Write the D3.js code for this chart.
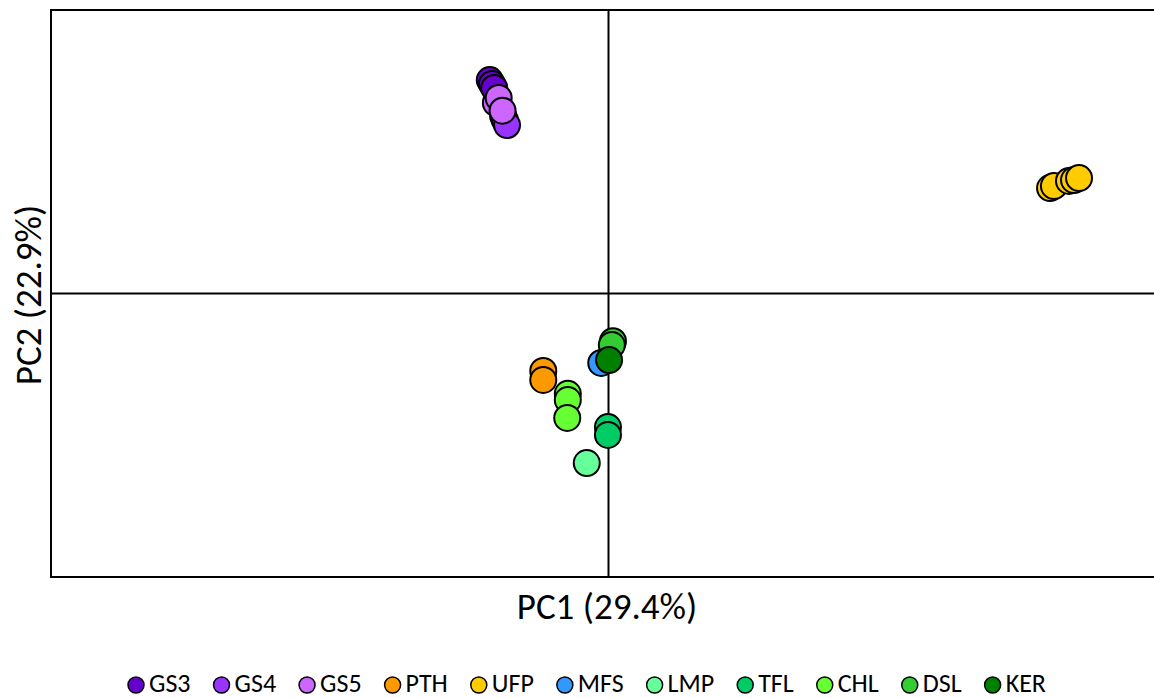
<!DOCTYPE html>
<html><head><meta charset="utf-8">
<script src="https://cdn.jsdelivr.net/npm/d3@7"></script>
<style>body{margin:0;background:#fff}svg{display:block}text{font-family:Carlito,Lato,"Open Sans",sans-serif;fill:#000}</style>
</head><body><svg id="c" width="1154" height="698"></svg>
<script>
const groups = ["GS3","GS4","GS5","PTH","UFP","MFS","LMP","TFL","CHL","DSL","KER"];
const colors = ["#6600CC","#9933FF","#CC66FF","#FF9900","#FFCC00","#3399FF","#66FF99","#00CC66","#66FF33","#33CC33","#008000"];
const pc1 = {
  GS3:[-2.13,-2.09,-2.05], GS4:[-1.89,-1.86,-1.82], GS5:[-2.02,-1.97,-1.90],
  PTH:[-1.17,-1.17], UFP:[7.92,7.99,8.26,8.35,8.44], MFS:[-0.13],
  LMP:[-0.39], TFL:[-0.01,-0.01], CHL:[-0.73,-0.73,-0.74], DSL:[0.08,0.06], KER:[0.01]
};
const pc2 = {
  GS3:[7.53,7.39,7.25], GS4:[6.26,6.12,5.94], GS5:[6.72,6.90,6.45],
  PTH:[-2.73,-3.05], UFP:[3.72,3.79,3.97,4.00,4.07], MFS:[-2.45],
  LMP:[-5.98], TFL:[-4.71,-4.99], CHL:[-3.54,-3.76,-4.39], DSL:[-1.68,-1.82], KER:[-2.35]
};
const xTitle = "PC1 (29.4%)", yTitle = "PC2 (22.9%)";

const svg = d3.select("#c");
const x = d3.scaleLinear().domain([-10,10]).range([51,1166]);
const y = d3.scaleLinear().domain([-10,10]).range([577,10]);
const col = d3.scaleOrdinal().domain(groups).range(colors);

svg.append("rect").attr("x",51).attr("y",10).attr("width",1166-51).attr("height",567)
  .attr("fill","none").attr("stroke","#000").attr("stroke-width",2);
svg.append("line").attr("x1",51).attr("x2",1166).attr("y1",y(0)).attr("y2",y(0)).attr("stroke","#000").attr("stroke-width",2);
svg.append("line").attr("x1",x(0)).attr("x2",x(0)).attr("y1",10).attr("y2",577).attr("stroke","#000").attr("stroke-width",2);

const pts = [];
groups.forEach(g => pc1[g].forEach((v,i) => pts.push({g, x:v, y:pc2[g][i]})));
svg.append("g").selectAll("circle").data(pts).join("circle")
  .attr("cx",d=>x(d.x)).attr("cy",d=>y(d.y)).attr("r",13)
  .attr("fill",d=>col(d.g)).attr("stroke","#000").attr("stroke-width",2);

svg.append("text").attr("x",607).attr("y",619).attr("text-anchor","middle")
  .attr("font-size",37).text(xTitle);
svg.append("text").attr("transform","translate(41,295) rotate(-90)").attr("text-anchor","middle")
  .attr("font-size",37).text(yTitle);

const lg = svg.append("g");
let cx = 136;
groups.forEach(g => {
  lg.append("circle").attr("cx",cx).attr("cy",685).attr("r",8)
    .attr("fill",col(g)).attr("stroke","#000").attr("stroke-width",1.5);
  const t = lg.append("text").attr("x",cx+13).attr("y",692).attr("font-size",26).text(g);
  cx += 13 + t.node().getComputedTextLength() + 31;
});
</script></body></html>
